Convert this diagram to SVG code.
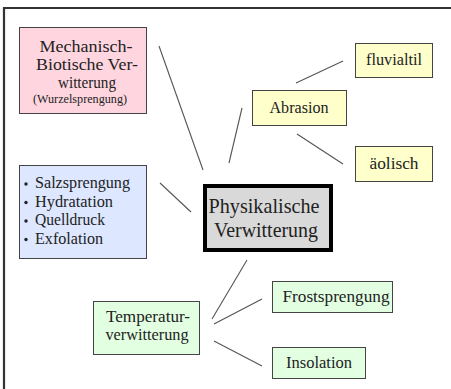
<svg xmlns="http://www.w3.org/2000/svg" width="451" height="389" viewBox="0 0 451 389">
<style>
text{font-family:'Liberation Serif','DejaVu Serif',serif;font-size:16px;fill:#222;}
.c{text-anchor:middle;}
.box{stroke:#444;stroke-width:1;}
.ln{stroke:#555;stroke-width:1.1;fill:none;}
</style>
<rect width="451" height="389" fill="#fff"/>
<path d="M4 389 V8 H451" fill="none" stroke="#333" stroke-width="2.2"/>
<g id="connectors">
<line class="ln" x1="159" y1="46" x2="203" y2="170"/>
<line class="ln" x1="242" y1="108" x2="229" y2="163"/>
<line class="ln" x1="296" y1="83" x2="343" y2="61"/>
<line class="ln" x1="297" y1="134" x2="343" y2="164"/>
<line class="ln" x1="160" y1="183" x2="191" y2="212"/>
<line class="ln" x1="247" y1="260" x2="212" y2="319"/>
<line class="ln" x1="214" y1="324" x2="262" y2="299"/>
<line class="ln" x1="214" y1="341" x2="262" y2="366"/>
</g>
<g id="mechanisch">
<rect class="box" x="19.5" y="27.5" width="127" height="86" fill="#FFD6DF"/>
<text class="c" x="86" y="52" textLength="93" lengthAdjust="spacingAndGlyphs">Mechanisch-</text>
<text class="c" x="87" y="70" textLength="102" lengthAdjust="spacingAndGlyphs">Biotische Ver-</text>
<text class="c" x="87" y="88" textLength="58" lengthAdjust="spacingAndGlyphs">witterung</text>
<text class="c" x="80" y="103" style="font-size:12px" textLength="94" lengthAdjust="spacingAndGlyphs">(Wurzelsprengung)</text>
</g>
<g id="physikalisch">
<rect x="205" y="186" width="126" height="64" fill="#D9D9D9" stroke="#000" stroke-width="4"/>
<text class="c" x="264" y="213" style="font-size:21px" textLength="111" lengthAdjust="spacingAndGlyphs">Physikalische</text>
<text class="c" x="266" y="237" style="font-size:21px" textLength="104" lengthAdjust="spacingAndGlyphs">Verwitterung</text>
</g>
<g id="abrasion">
<rect class="box" x="252.5" y="90.5" width="94" height="35" fill="#FFFFCC"/>
<text class="c" x="299" y="113" textLength="59" lengthAdjust="spacingAndGlyphs">Abrasion</text>
</g>
<g id="fluvialtil">
<rect class="box" x="355.5" y="43.5" width="77" height="34" fill="#FFFFCC"/>
<text class="c" x="394" y="65" textLength="56" lengthAdjust="spacingAndGlyphs">fluvialtil</text>
</g>
<g id="aeolisch">
<rect class="box" x="355.5" y="146.5" width="77" height="35" fill="#FFFFCC"/>
<text class="c" x="394" y="169" textLength="49" lengthAdjust="spacingAndGlyphs">äolisch</text>
</g>
<g id="salz">
<rect class="box" x="19.5" y="165.5" width="127" height="93" fill="#DDE7FF"/>
<circle cx="26" cy="184" r="1.7" fill="#222"/>
<circle cx="26" cy="202.5" r="1.7" fill="#222"/>
<circle cx="26" cy="221" r="1.7" fill="#222"/>
<circle cx="26" cy="239.5" r="1.7" fill="#222"/>
<text x="35" y="188" textLength="95" lengthAdjust="spacingAndGlyphs">Salzsprengung</text>
<text x="35" y="206.5" textLength="78" lengthAdjust="spacingAndGlyphs">Hydratation</text>
<text x="35" y="225" textLength="70" lengthAdjust="spacingAndGlyphs">Quelldruck</text>
<text x="35" y="243.5" textLength="68" lengthAdjust="spacingAndGlyphs">Exfolation</text>
</g>
<g id="temperatur">
<rect class="box" x="93.5" y="301.5" width="106" height="53" fill="#E2FFE2"/>
<text class="c" x="148" y="322" textLength="84" lengthAdjust="spacingAndGlyphs">Temperatur-</text>
<text class="c" x="147" y="340" textLength="83" lengthAdjust="spacingAndGlyphs">verwitterung</text>
</g>
<g id="frost">
<rect class="box" x="272.5" y="281.5" width="120" height="31" fill="#E2FFE2"/>
<text class="c" x="336" y="302" textLength="107" lengthAdjust="spacingAndGlyphs">Frostsprengung</text>
</g>
<g id="insolation">
<rect class="box" x="272.5" y="347.5" width="93" height="31" fill="#E2FFE2"/>
<text class="c" x="319" y="368" textLength="66" lengthAdjust="spacingAndGlyphs">Insolation</text>
</g>
</svg>
